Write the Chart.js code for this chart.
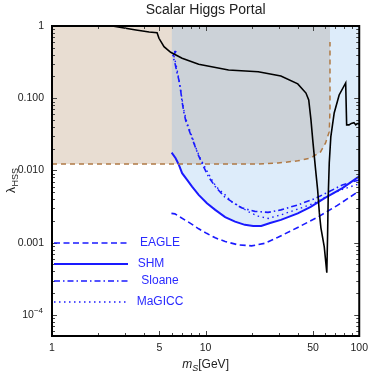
<!DOCTYPE html>
<html>
<head>
<meta charset="utf-8">
<script src="https://cdn.jsdelivr.net/npm/chart.js@4.4.1/dist/chart.umd.min.js"></script>
<style>
  html, body { margin: 0; padding: 0; background: #fff; }
  canvas { display: block; }
</style>
</head>
<body>
<canvas id="chart" width="374" height="373"></canvas>
<script>
// ── Data: m_S [GeV] vs λ_HSS ──
const blackMass = [2.3, 2.47, 3.52, 4.29, 4.83, 4.97, 5.36, 5.92, 7.03, 9.01, 14.1, 22.0, 30.9, 39.8, 45.0, 46.9, 48.5, 49.8, 52.0, 53.6, 55.0, 56.3, 59.2, 61.5, 62.2, 62.8, 63.8, 65.3, 68.7, 74.0, 81.6, 82.8, 85.8, 88.8, 92.4, 94.9, 97.0, 100];
const blackLam = [1.05, 1.0, 0.88, 0.826, 0.808, 0.676, 0.517, 0.433, 0.357, 0.295, 0.246, 0.233, 0.203, 0.158, 0.118, 0.0947, 0.0501, 0.0265, 0.0102, 0.00539, 0.00259, 0.00161, 0.000877, 0.000384, 0.00121, 0.00431, 0.0127, 0.0292, 0.0626, 0.111, 0.163, 0.0428, 0.0428, 0.0448, 0.046, 0.0428, 0.0446, 0.044];

const brownMass = [1, 22.0, 29.6, 39.8, 48.3, 56.0, 60.4, 63.8, 64.5, 64.5];
const brownLam = [0.01233, 0.01233, 0.0127, 0.0136, 0.0149, 0.0181, 0.0241, 0.0345, 0.0689, 0.60];
const shadeMass = [...brownMass, 64.5];
const shadeLam = [...brownLam, 1];

const shmMass = [6.01, 6.38, 6.70, 7.03, 7.58, 8.16, 9.01, 10.2, 11.55, 13.4, 15.55, 18.0, 20.4, 23.0, 26.3, 30.9, 39.8, 48.3, 59.5, 77.7, 100];
const shmLam = [0.0177, 0.0148, 0.01195, 0.00918, 0.00741, 0.00599, 0.0046, 0.00353, 0.00285, 0.00226, 0.00196, 0.00177, 0.00171, 0.00171, 0.00188, 0.00207, 0.00255, 0.00314, 0.00414, 0.00569, 0.00829];

const eagleMass = [5.99, 6.31, 6.70, 7.40, 8.16, 9.01, 10.15, 11.55, 13.4, 16.3, 19.9, 24.3, 29.6, 39.8, 53.6, 72.1, 100];
const eagleLam = [0.00255, 0.00251, 0.00232, 0.00204, 0.0018, 0.00156, 0.00135, 0.00117, 0.00104, 0.000935, 0.000906, 0.000982, 0.00119, 0.00163, 0.00226, 0.00329, 0.00522];

const sloaneMass = [6.43, 6.12, 6.31, 6.50, 6.70, 6.90, 7.03, 7.21, 7.43, 7.88, 8.37, 9.01, 9.71, 10.45, 11.55, 13.3, 15.2, 17.1, 20.9, 25.5, 30.9, 39.8, 51.0, 62.2, 77.7, 100];
const sloaneLam = [0.451, 0.385, 0.308, 0.231, 0.179, 0.122, 0.0889, 0.0647, 0.0485, 0.0342, 0.0241, 0.0159, 0.0112, 0.00816, 0.00599, 0.00431, 0.00356, 0.00304, 0.00272, 0.00263, 0.00285, 0.00334, 0.00405, 0.00498, 0.00632, 0.00741];

const magiccMass = [6.31, 6.22, 6.41, 6.60, 6.80, 7.00, 7.21, 7.54, 8.00, 8.58, 9.15, 9.71, 10.45, 11.3, 12.1, 13.4, 14.8, 16.3, 18.9, 22.0, 25.5, 30.9, 39.8, 51.0, 62.2, 77.7, 100];
const magiccLam = [0.451, 0.385, 0.298, 0.217, 0.153, 0.101, 0.0689, 0.047, 0.0331, 0.0214, 0.0154, 0.012, 0.00897, 0.00667, 0.00557, 0.0046, 0.00368, 0.00329, 0.0027, 0.00233, 0.00217, 0.00243, 0.00292, 0.00353, 0.00445, 0.00548, 0.00653];

// ── Ticks ──
const xMajor = [1, 5, 10, 50, 100];
const xMinor = [2, 3, 4, 6, 7, 8, 9, 20, 30, 40, 60, 70, 80, 90];
const yMajor = [1, 0.1, 0.01, 0.001, 0.0001];
const yLabels = ['1', '0.100', '0.010', '0.001', '10^-4'];
const yMinor = [
  6e-5, 7e-5, 8e-5, 9e-5,
  2e-4, 3e-4, 4e-4, 5e-4, 6e-4, 7e-4, 8e-4, 9e-4,
  2e-3, 3e-3, 4e-3, 5e-3, 6e-3, 7e-3, 8e-3, 9e-3,
  0.02, 0.03, 0.04, 0.05, 0.06, 0.07, 0.08, 0.09,
  0.2, 0.3, 0.4, 0.5, 0.6, 0.7, 0.8, 0.9
];

const legendNames = ['EAGLE', 'SHM', 'Sloane', 'MaGICC'];

const FONT = "'Liberation Sans', Arial, sans-serif";
const BLUE = '#1a1aff';

const pts = (xs, ys) => xs.map((x, i) => ({ x, y: ys[i] }));

// ── Custom drawing: frame, inner ticks, power labels, titles, legend ──
const decorations = {
  id: 'decorations',
  afterDraw(chart) {
    const { ctx, chartArea: a, scales: { x, y } } = chart;
    ctx.save();

    // inner ticks on all four sides
    ctx.strokeStyle = '#444';
    ctx.lineWidth = 1;
    ctx.beginPath();
    x.ticks.forEach(t => {
      const px = Math.round(x.getPixelForValue(t.value)) + 0.5;
      const len = xMajor.includes(t.value) ? 5 : 3;
      ctx.moveTo(px, a.bottom); ctx.lineTo(px, a.bottom - len);
      ctx.moveTo(px, a.top); ctx.lineTo(px, a.top + len);
    });
    y.ticks.forEach(t => {
      const py = Math.round(y.getPixelForValue(t.value)) + 0.5;
      const len = yMajor.includes(t.value) ? 5 : 3;
      ctx.moveTo(a.left, py); ctx.lineTo(a.left + len, py);
      ctx.moveTo(a.right, py); ctx.lineTo(a.right - len, py);
    });
    ctx.stroke();

    // frame
    ctx.strokeStyle = '#000';
    ctx.lineWidth = 2;
    ctx.strokeRect(a.left, a.top, a.right - a.left, a.bottom - a.top);

    // y labels written as powers (10^-4)
    ctx.fillStyle = '#222';
    ctx.textBaseline = 'middle';
    ctx.textAlign = 'right';
    yLabels.forEach((lab, i) => {
      if (!lab.includes('^')) return;
      const [base, exp] = lab.split('^');
      const py = y.getPixelForValue(yMajor[i]);
      ctx.font = `8px ${FONT}`;
      ctx.fillText(exp.replace('-', '\u2212'), a.left - 9, py - 4);
      const we = ctx.measureText(exp.replace('-', '\u2212')).width;
      ctx.font = `10.5px ${FONT}`;
      ctx.fillText(base, a.left - 9 - we, py);
    });

    // title
    ctx.fillStyle = '#222';
    ctx.font = `14px ${FONT}`;
    ctx.textAlign = 'center';
    ctx.textBaseline = 'alphabetic';
    ctx.fillText('Scalar Higgs Portal', (a.left + a.right) / 2, 14);

    // x title: m_S[GeV]
    ctx.textAlign = 'left';
    ctx.font = `italic 12px ${FONT}`;
    const wm = ctx.measureText('m').width;
    ctx.font = `italic 9px ${FONT}`;
    const ws = ctx.measureText('S').width;
    ctx.font = `12px ${FONT}`;
    const wg = ctx.measureText('[GeV]').width;
    const tx = (a.left + a.right) / 2 - (wm + ws + wg) / 2;
    ctx.font = `italic 12px ${FONT}`;
    ctx.fillText('m', tx, 368);
    ctx.font = `italic 9px ${FONT}`;
    ctx.fillText('S', tx + wm, 371);
    ctx.font = `12px ${FONT}`;
    ctx.fillText('[GeV]', tx + wm + ws, 368);

    // y title: λ_HSS
    ctx.save();
    ctx.translate(15, 193);
    ctx.rotate(-Math.PI / 2);
    ctx.font = `12px ${FONT}`;
    ctx.fillText('\u03BB', 0, 0);
    const wl = ctx.measureText('\u03BB').width;
    ctx.font = `9px ${FONT}`;
    ctx.fillText('HSS', wl + 0.5, 3);
    ctx.restore();

    // legend
    const rows = [243, 264, 281, 302];
    const textX = [160, 151, 160, 160];
    const metas = [3, 2, 4, 5];
    ctx.font = `12px ${FONT}`;
    ctx.textAlign = 'center';
    ctx.textBaseline = 'middle';
    legendNames.forEach((name, i) => {
      const ds = chart.data.datasets[metas[i]];
      ctx.strokeStyle = ds.borderColor;
      ctx.lineWidth = ds.borderWidth;
      ctx.setLineDash(ds.borderDash || []);
      ctx.beginPath();
      ctx.moveTo(54, rows[i]);
      ctx.lineTo(128, rows[i]);
      ctx.stroke();
      ctx.setLineDash([]);
      ctx.fillStyle = '#2a2aff';
      ctx.fillText(name, textX[i], rows[i]);
    });

    ctx.restore();
  }
};

new Chart(document.getElementById('chart'), {
  type: 'scatter',
  data: {
    datasets: [
      {
        label: 'bound',
        data: pts(blackMass, blackLam),
        showLine: true,
        borderColor: '#000',
        borderWidth: 1.6,
        fill: false,
      },
      {
        label: 'brown',
        data: pts(brownMass, brownLam),
        showLine: true,
        borderColor: '#b07a45',
        borderWidth: 1.5,
        borderDash: [5, 4],
        fill: false,
      },
      {
        label: 'SHM',
        data: pts(shmMass, shmLam),
        showLine: true,
        borderColor: BLUE,
        borderWidth: 2,
        backgroundColor: 'rgba(119,179,235,0.25)',
        fill: 'end',
      },
      {
        label: 'EAGLE',
        data: pts(eagleMass, eagleLam),
        showLine: true,
        borderColor: BLUE,
        borderWidth: 1.6,
        borderDash: [6, 3.5],
        fill: false,
      },
      {
        label: 'Sloane',
        data: pts(sloaneMass, sloaneLam),
        showLine: true,
        borderColor: BLUE,
        borderWidth: 1.6,
        borderDash: [6, 3, 1.5, 3],
        fill: false,
      },
      {
        label: 'MaGICC',
        data: pts(magiccMass, magiccLam),
        showLine: true,
        borderColor: BLUE,
        borderWidth: 1.4,
        borderDash: [1.5, 3.5],
        fill: false,
      },
      {
        label: 'shade',
        data: pts(shadeMass, shadeLam),
        showLine: true,
        borderColor: 'rgba(0,0,0,0)',
        borderWidth: 1,
        backgroundColor: '#e8ddd2',
        fill: 'end',
      },
    ],
  },
  options: {
    responsive: false,
    animation: false,
    layout: { padding: { top: 26, right: 12, left: 0, bottom: 0 } },
    elements: { point: { radius: 0, hoverRadius: 0 }, line: { tension: 0 } },
    plugins: {
      legend: { display: false },
      tooltip: { enabled: false },
      filler: { drawTime: 'beforeDatasetsDraw' },
    },
    scales: {
      x: {
        type: 'logarithmic',
        min: 1,
        max: 100,
        afterBuildTicks: s => { s.ticks = [...xMajor, ...xMinor].sort((p, q) => p - q).map(v => ({ value: v })); },
        afterFit: s => { s.height = 37; },
        grid: { display: false, drawTicks: false },
        border: { display: false },
        ticks: {
          autoSkip: false,
          maxRotation: 0,
          padding: 6,
          color: '#222',
          font: { size: 10.5, family: FONT },
          callback: v => (xMajor.includes(v) ? String(v) : ''),
        },
      },
      y: {
        type: 'logarithmic',
        min: 5.12e-5,
        max: 1,
        afterBuildTicks: s => { s.ticks = [...yMajor, ...yMinor].sort((p, q) => p - q).map(v => ({ value: v })); },
        afterFit: s => { s.width = 52; },
        grid: { display: false, drawTicks: false },
        border: { display: false },
        ticks: {
          autoSkip: false,
          padding: 8,
          color: '#222',
          font: { size: 10.5, family: FONT },
          callback: v => {
            const i = yMajor.indexOf(v);
            return i >= 0 && !yLabels[i].includes('^') ? yLabels[i] : '';
          },
        },
      },
    },
  },
  plugins: [decorations],
});
</script>
</body>
</html>
